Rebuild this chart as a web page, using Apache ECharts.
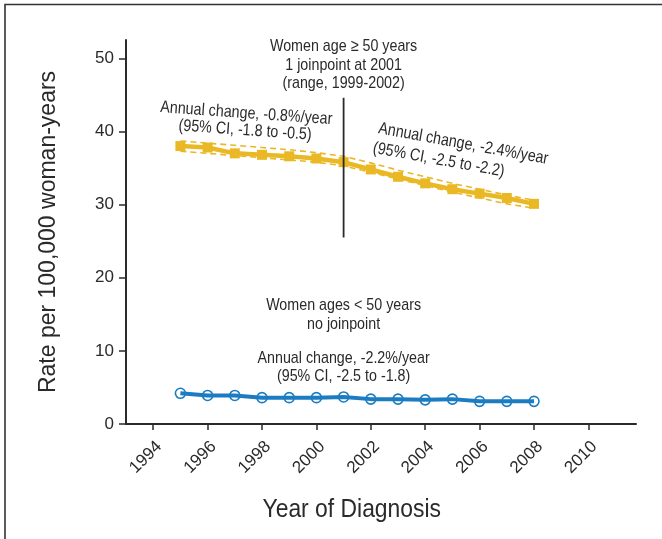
<!DOCTYPE html>
<html>
<head>
<meta charset="utf-8">
<script src="https://cdn.jsdelivr.net/npm/echarts@6/dist/echarts.min.js"></script>
<style>
  html, body { margin: 0; padding: 0; background: #fff; }
  #chart { width: 662px; height: 539px; }
</style>
</head>
<body>
<div id="chart"></div>
<script>
// Diagnosis years and incidence rates (per 100,000 woman-years)
const years = [1995, 1996, 1997, 1998, 1999, 2000, 2001, 2002, 2003, 2004, 2005, 2006, 2007, 2008];
const rateOver50 = [38.0, 37.8, 37.0, 36.8, 36.6, 36.3, 35.8, 34.8, 33.8, 32.9, 32.1, 31.5, 30.9, 30.1];
const ciUpperOver50 = [38.7, 38.4, 38.1, 37.8, 37.5, 37.1, 36.6, 35.7, 34.7, 33.8, 32.9, 32.1, 31.3, 30.6];
const ciLowerOver50 = [37.3, 37.0, 36.7, 36.4, 36.1, 35.8, 35.3, 34.4, 33.5, 32.6, 31.7, 30.9, 30.1, 29.5];
const rateUnder50 = [4.2, 3.9, 3.9, 3.6, 3.6, 3.6, 3.7, 3.4, 3.4, 3.3, 3.4, 3.1, 3.1, 3.1];

// Joinpoint marker for women aged 50+
const joinpointYear = 2001;
const joinpointSpan = [25.5, 44.6];

// Axis ticks
const xTickYears = [1994, 1996, 1998, 2000, 2002, 2004, 2006, 2008, 2010];
const yTicks = [0, 10, 20, 30, 40, 50];

const YELLOW = '#e9b824';
const BLUE = '#1b7cc2';
const INK = '#2a2a2a';
const SANS = '"Liberation Sans", Arial, sans-serif';
// condensed look for annotation text, drawn with a horizontal squeeze
const SQUEEZE = 0.84;

const pair = (xs, ys) => xs.map((x, i) => [x, ys[i]]);

const chart = echarts.init(document.getElementById('chart'), null, { renderer: 'canvas' });

const option = {
  animation: false,
  backgroundColor: '#fff',
  grid: { left: 126, right: 26, top: 40, bottom: 115 },
  xAxis: {
    type: 'value',
    min: 1993,
    max: 2011.75,
    splitLine: { show: false },
    axisLine: { lineStyle: { color: INK, width: 2 } },
    axisTick: { customValues: xTickYears, length: 6, lineStyle: { color: INK, width: 1.5 } },
    axisLabel: {
      customValues: xTickYears,
      rotate: 45,
      margin: 14,
      verticalAlign: 'top',
      fontFamily: SANS,
      fontSize: 17,
      color: INK,
      formatter: v => String(v)
    }
  },
  yAxis: {
    type: 'value',
    min: 0,
    max: 52.5,
    name: 'Rate per 100,000 woman-years',
    nameLocation: 'middle',
    nameGap: 66,
    nameTextStyle: { fontFamily: SANS, fontSize: 23, color: INK },
    splitLine: { show: false },
    axisLine: { show: true, lineStyle: { color: INK, width: 2 } },
    axisTick: { customValues: yTicks, length: 7, lineStyle: { color: INK, width: 1.5 } },
    axisLabel: { customValues: yTicks, margin: 12, fontFamily: SANS, fontSize: 17, color: INK }
  },
  series: [
    {
      name: 'upper CI',
      type: 'line',
      data: pair(years, ciUpperOver50),
      symbol: 'none',
      lineStyle: { color: YELLOW, width: 1.6, type: [6, 4] },
      z: 2
    },
    {
      name: 'lower CI',
      type: 'line',
      data: pair(years, ciLowerOver50),
      symbol: 'none',
      lineStyle: { color: YELLOW, width: 1.6, type: [6, 4] },
      z: 2
    },
    {
      name: 'Women age >= 50',
      type: 'line',
      data: pair(years, rateOver50),
      symbol: 'rect',
      symbolSize: 10,
      itemStyle: { color: YELLOW },
      lineStyle: { color: YELLOW, width: 4.5 },
      z: 3
    },
    {
      name: 'Women age < 50',
      type: 'line',
      data: pair(years, rateUnder50),
      symbol: 'circle',
      symbolSize: 10,
      itemStyle: { color: 'rgba(255,255,255,0)', borderColor: BLUE, borderWidth: 1.6 },
      lineStyle: { color: BLUE, width: 4 },
      z: 3
    },
    {
      name: 'joinpoint',
      type: 'line',
      data: [[joinpointYear, joinpointSpan[0]], [joinpointYear, joinpointSpan[1]]],
      symbol: 'none',
      lineStyle: { color: INK, width: 1.8 },
      z: 4
    }
  ]
};

chart.setOption(option);

// Annotation text, anchored in data coordinates
const notes = [
  { at: [2001, 49.1], text: 'Women age \u2265 50 years\n1 joinpoint at 2001\n(range, 1999-2002)', rot: 0, lh: 18.5 },
  { at: [1997.4, 41.3], text: 'Annual change, -0.8%/year\n(95% CI, -1.8 to -0.5)', rot: -0.07, lh: 17 },
  { at: [2005.4, 38.3], text: 'Annual change, -2.4%/year', rot: -0.18, lh: 17 },
  { at: [2004.5, 36.1], text: '(95% CI, -2.5 to -2.2)', rot: -0.18, lh: 17 },
  { at: [2001, 14.9], text: 'Women ages < 50 years\nno joinpoint', rot: 0, lh: 18.8 },
  { at: [2001, 7.75], text: 'Annual change, -2.2%/year\n(95% CI, -2.5 to -1.8)', rot: 0, lh: 18.5 }
];

const graphics = notes.map(n => {
  const p = chart.convertToPixel({ gridIndex: 0 }, n.at);
  return {
    type: 'text',
    x: p[0],
    y: p[1],
    rotation: n.rot,
    scaleX: SQUEEZE,
    style: {
      text: n.text,
      fill: INK,
      font: '17px ' + SANS,
      align: 'center',
      verticalAlign: 'middle',
      lineHeight: n.lh
    },
    z: 10
  };
});

// X axis title, centred under the plotted years
const xCentre = chart.convertToPixel({ gridIndex: 0 }, [2001.3, 0]);
graphics.push({
  type: 'text',
  x: xCentre[0],
  y: 510,
  scaleX: 0.88,
  style: {
    text: 'Year of Diagnosis',
    fill: INK,
    font: '26px ' + SANS,
    align: 'center',
    verticalAlign: 'middle'
  },
  z: 10
});

// Outer frame
graphics.push({
  type: 'rect',
  shape: { x: 5, y: 4.5, width: 720, height: 620 },
  style: { fill: 'none', stroke: '#333', lineWidth: 1.6 },
  z: 0
});

chart.setOption({ graphic: graphics });
</script>
</body>
</html>
